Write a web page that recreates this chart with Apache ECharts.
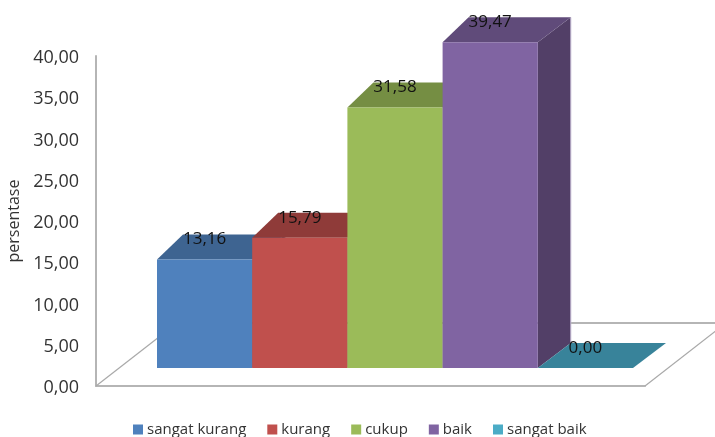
<!DOCTYPE html>
<html>
<head>
<meta charset="utf-8">
<style>html,body{margin:0;padding:0;background:#fff}#chart{width:715px;height:437px}</style>
<script src="https://cdn.jsdelivr.net/npm/echarts@6/dist/echarts.min.js"></script>
</head>
<body>
<div id="chart"></div>
<script>
// Penilaian kategori (persentase)
const categories = ['sangat kurang', 'kurang', 'cukup', 'baik', 'sangat baik'];
const values = [13.16, 15.79, 31.58, 39.47, 0.00];
const frontColors = ['#4F81BD', '#C0504D', '#9BBB59', '#8064A2', '#4BACC6'];
const topColors = ['#3E6491', '#8F3B39', '#758E43', '#604B7A', '#38839A'];
const sideColors = ['#345478', '#7A3230', '#5F7436', '#523F67', '#2E6C80'];

const FONT = '"Open Sans", sans-serif';
const DEPTH_Y = 25;          // vertical shift of a column's back edge
const DEPTH_X_LEFT = 26;     // perspective shift of the back-left corner
const DEPTH_X_RIGHT = 33;    // perspective shift of the back-right corner
const FLOOR_DX = 81;
const FLOOR_DY = 63;

const fmt = v => v.toFixed(2).replace('.', ',');

// Floor outline of the 3D plot area
function renderFloor(params, api) {
  const a = api.coord([0, 0]);
  const b = api.coord([1, 0]);
  const lineStyle = { stroke: '#a9a9a9', lineWidth: 1.2, fill: null };
  return {
    type: 'group',
    children: [
      { type: 'line', shape: { x1: a[0], y1: a[1], x2: a[0] + FLOOR_DX, y2: a[1] - FLOOR_DY }, style: lineStyle },
      { type: 'line', shape: { x1: b[0], y1: b[1], x2: b[0] + FLOOR_DX, y2: b[1] - FLOOR_DY }, style: lineStyle },
      { type: 'line', shape: { x1: a[0] + FLOOR_DX, y1: a[1] - FLOOR_DY, x2: b[0] + FLOOR_DX, y2: b[1] - FLOOR_DY },
        style: { stroke: '#b5b5b5', lineWidth: 2, fill: null } }
    ]
  };
}

// One 3D column: side face, top face, front face and value label
function renderColumn(i) {
  return function (params, api) {
    const top = api.coord([api.value(0), api.value(1)]);
    const base = api.coord([api.value(0), 0]);
    const w = api.size([1, 0])[0];
    const xl = top[0] - w / 2, xr = top[0] + w / 2;
    const yt = top[1], yb = base[1];
    const isFlat = api.value(1) === 0;
    const dl = isFlat ? DEPTH_X_RIGHT : DEPTH_X_LEFT;
    const children = [];
    if (!isFlat) {
      children.push({ type: 'polygon',
        shape: { points: [[xr, yt], [xr + DEPTH_X_RIGHT, yt - DEPTH_Y], [xr + DEPTH_X_RIGHT, yb - DEPTH_Y], [xr, yb]] },
        style: { fill: sideColors[i] } });
      children.push({ type: 'line',
        shape: { x1: xr + DEPTH_X_RIGHT, y1: yt - DEPTH_Y, x2: xr + DEPTH_X_RIGHT, y2: yb - DEPTH_Y },
        style: { stroke: '#c4bad3', lineWidth: 1, fill: null } });
    }
    children.push({ type: 'polygon',
      shape: { points: [[xl, yt], [xl + dl, yt - DEPTH_Y], [xr + DEPTH_X_RIGHT, yt - DEPTH_Y], [xr, yt]] },
      style: { fill: topColors[i] } });
    if (!isFlat) {
      children.push({ type: 'rect', shape: { x: xl, y: yt, width: w, height: yb - yt },
        style: { fill: frontColors[i] } });
    }
    children.push({ type: 'text', z2: 50,
      style: { x: top[0], y: yt - 20, text: fmt(api.value(1)), align: 'center', verticalAlign: 'middle',
        fill: '#111', font: '17px ' + FONT } });
    return { type: 'group', children };
  };
}

const columnSeries = categories.map((name, i) => ({
  name,
  type: 'custom',
  xAxisIndex: 1,
  yAxisIndex: 1,
  z: 3 + i,
  itemStyle: { color: frontColors[i] },
  renderItem: renderColumn(i),
  encode: { x: 0, y: 1 },
  data: [[name, values[i]]]
}));

const chart = echarts.init(document.getElementById('chart'), null, { renderer: 'canvas' });
chart.setOption({
  animation: false,
  backgroundColor: '#fff',
  grid: [
    { left: 96, top: 56, width: 549, height: 330, outerBoundsMode: 'none' },
    { left: 157, top: 38, width: 476, height: 330, outerBoundsMode: 'none' }
  ],
  xAxis: [
    { gridIndex: 0, type: 'value', min: 0, max: 1, splitLine: { show: false }, axisTick: { show: false },
      axisLabel: { show: false }, axisLine: { show: true, onZero: false, lineStyle: { color: '#b5b5b5', width: 2 } } },
    { gridIndex: 1, type: 'category', data: categories, show: false }
  ],
  yAxis: [
    { gridIndex: 0, type: 'value', min: 0, max: 40, interval: 5, name: 'persentase', nameLocation: 'middle', nameGap: 68,
      nameTextStyle: { fontFamily: FONT, fontSize: 16, color: '#333' },
      axisLine: { show: true, lineStyle: { color: '#b5b5b5', width: 2 } }, axisTick: { show: false },
      splitLine: { show: false },
      axisLabel: { margin: 17, verticalAlign: 'top', lineHeight: 4, fontFamily: FONT, fontSize: 18, color: '#333', formatter: v => fmt(v) } },
    { gridIndex: 1, type: 'value', min: 0, max: 40, show: false, splitLine: { show: false } }
  ],
  legend: {
    data: categories.map(name => ({ name, icon: 'rect' })),
    left: 128, top: 417, itemWidth: 10, itemHeight: 10, itemGap: 21,
    selectedMode: false,
    textStyle: { fontFamily: FONT, fontSize: 15, color: '#333', padding: [0, 0, 0, -1] }
  },
  series: [
    { name: 'lantai', type: 'custom', xAxisIndex: 0, yAxisIndex: 0, z: 1, silent: true,
      renderItem: renderFloor, encode: { x: 0, y: 1 }, data: [[0, 0]] }
  ].concat(columnSeries)
});
</script>
</body>
</html>
